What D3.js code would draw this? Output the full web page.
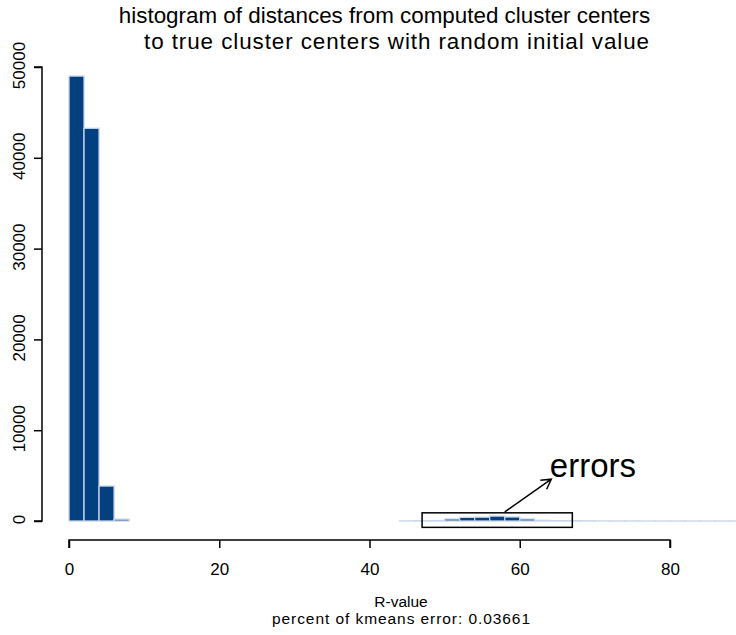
<!DOCTYPE html>
<html><head><meta charset="utf-8">
<script src="https://cdn.jsdelivr.net/npm/d3@7"></script>
<style>
body{margin:0;background:#fff}
svg{display:block;background:#fff}
text{font-family:"Liberation Sans",Arial,Helvetica,sans-serif;fill:#000}
</style>
</head><body>
<svg id="chart" width="736" height="635"></svg>
<script>
// ---- data ----
const binWidth = 2;
const binStarts = [0, 2, 4, 6,
  44, 46, 48, 50, 52, 54, 56, 58, 60, 62, 64, 66, 68, 70, 72, 74, 76, 78, 80, 82, 84, 86, 88];
const counts = [49000, 43250, 3850, 200,
  5, 15, 40, 220, 400, 420, 540, 440, 220, 70, 40, 20, 10, 3, 2, 2, 1, 1, 1, 1, 1, 1, 1];
const xTicks = [0, 20, 40, 60, 80];
const yTicks = [0, 10000, 20000, 30000, 40000, 50000];
const titleLines = ["histogram of distances from computed cluster centers",
                    "to true cluster centers with random initial value"];
const xLabelLines = ["R-value", "percent of kmeans error: 0.03661"];
const annotationText = "errors";
const boxX = [47, 67];
const boxY = [-700, 900];
const arrowFrom = [58, 1000];
const arrowTo = [64.2, 4600];
const labelAt = [64, 4850];

// ---- chart ----
const svg = d3.select("#chart");
const x = d3.scaleLinear().domain([0, 80]).range([69, 670]);
const y = d3.scaleLinear().domain([0, 50000]).range([521, 67]);

const bins = binStarts.map((s, i) => ({x0: s, x1: s + binWidth, n: counts[i]}));

svg.append("g").selectAll("rect").data(bins).join("rect")
  .attr("x", d => x(d.x0))
  .attr("width", d => x(d.x1) - x(d.x0))
  .attr("y", d => y(d.n))
  .attr("height", d => y(0) - y(d.n))
  .attr("fill", "#02407f")
  .attr("stroke", "#c9d5e8")
  .attr("stroke-width", 1.3);

// x axis
const xAxis = d3.axisBottom(x).tickValues(xTicks).tickSize(8).tickPadding(15).tickFormat(d3.format("d"));
const gx = svg.append("g").attr("transform", "translate(0,540)").call(xAxis);
gx.select(".domain").attr("stroke", "#000").attr("stroke-width", 1.5).attr("d", `M${x(0)},8V0H${x(80)}V8`);
gx.selectAll(".tick line").attr("stroke", "#000").attr("stroke-width", 1.5);
gx.selectAll(".tick text").attr("font-size", 17).attr("font-family", "Liberation Sans, Arial, sans-serif").attr("fill", "#000");

// y axis
const yAxis = d3.axisLeft(y).tickValues(yTicks).tickSize(8).tickPadding(0).tickFormat(d3.format("d"));
const gy = svg.append("g").attr("transform", "translate(42,0)").call(yAxis);
gy.select(".domain").attr("stroke", "#000").attr("stroke-width", 1.5).attr("d", `M-8,${y(0)}H0V${y(50000)}H-8`);
gy.selectAll(".tick line").attr("stroke", "#000").attr("stroke-width", 1.5);
gy.selectAll(".tick text")
  .attr("font-size", 17).attr("font-family", "Liberation Sans, Arial, sans-serif").attr("fill", "#000")
  .attr("x", null).attr("dy", null)
  .attr("text-anchor", "middle")
  .attr("transform", "translate(-17,-2) rotate(-90)");

// title
svg.append("text").attr("x", 384.5).attr("y", 23).attr("text-anchor", "middle").attr("font-size", 22.4)
  .text(titleLines[0]);
svg.append("text").attr("x", 396.5).attr("y", 49).attr("text-anchor", "middle").attr("font-size", 22.4)
  .attr("textLength", 505).attr("lengthAdjust", "spacing").text(titleLines[1]);

// x label
svg.append("text").attr("x", 401).attr("y", 607).attr("text-anchor", "middle").attr("font-size", 15.5).text(xLabelLines[0]);
svg.append("text").attr("x", 401).attr("y", 624).attr("text-anchor", "middle").attr("font-size", 15.5)
  .attr("textLength", 258).attr("lengthAdjust", "spacing").text(xLabelLines[1]);

// annotation
svg.append("rect")
  .attr("x", x(boxX[0])).attr("y", y(boxY[1]))
  .attr("width", x(boxX[1]) - x(boxX[0])).attr("height", y(boxY[0]) - y(boxY[1]))
  .attr("fill", "none").attr("stroke", "#000").attr("stroke-width", 1.5);

const ax0 = x(arrowFrom[0]), ay0 = y(arrowFrom[1]), ax1 = x(arrowTo[0]), ay1 = y(arrowTo[1]);
const ang = Math.atan2(ay1 - ay0, ax1 - ax0), hl = 11, ha = Math.PI / 6;
svg.append("path")
  .attr("d", `M${ax0},${ay0}L${ax1},${ay1}` +
    `M${ax1 - hl*Math.cos(ang - ha)},${ay1 - hl*Math.sin(ang - ha)}L${ax1},${ay1}` +
    `L${ax1 - hl*Math.cos(ang + ha)},${ay1 - hl*Math.sin(ang + ha)}`)
  .attr("fill", "none").attr("stroke", "#000").attr("stroke-width", 1.5);

svg.append("text").attr("x", x(labelAt[0])).attr("y", y(labelAt[1])).attr("font-size", 33).text(annotationText);
</script>
</body></html>
